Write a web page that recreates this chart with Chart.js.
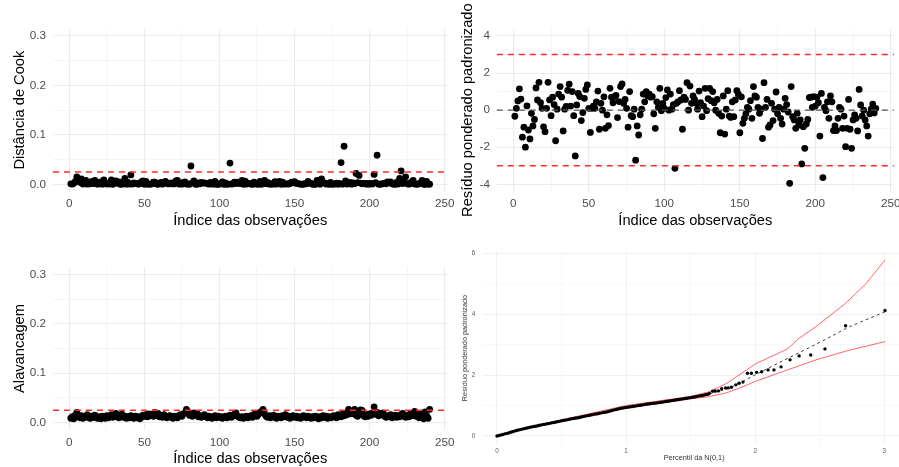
<!DOCTYPE html>
<html lang="pt">
<head>
<meta charset="utf-8">
<title>Diagnóstico do modelo</title>
<script src="https://cdn.jsdelivr.net/npm/chart.js@4.4.1/dist/chart.umd.min.js"></script>
<style>
  html, body { margin: 0; padding: 0; background: #fff; }
  #board { position: relative; width: 899px; height: 467px; overflow: hidden; background: #fff; }
  #board canvas { position: absolute; }
</style>
</head>
<body>
<div id="board"></div>
<script>
// Diagnostic panels: Cook's distance, standardized weighted residuals,
// leverage and half-normal plot with simulated envelope.

// ---- data -----------------------------------------------------------------

// Standardized weighted residual, observations 1..240
const residuals = [
  -0.33, 0.1, 0.5, 1.15, 0.6, -1.46, -0.92, -2.0, 0.23, -1.07,
  -1.55, -0.17, -0.85, -0.5, 1.2, 0.55, 1.5, 0.4, 0.1, -0.9,
  -1.16, 0.1, 1.5, 0.55, -0.3, 0.7, 0.3, -1.65, 0.05, 0.87,
  1.27, 0.7, -1.12, 0.05, 0.2, 1.07, 1.4, 0.22, 1.0, -0.3,
  -2.47, 0.28, 0.9, 0.73, -0.56, -0.13, 0.64, 1.12, 1.36, 0.1,
  -1.2, 0.1, 0.22, 0.1, 0.44, 1.03, -1.03, 0.37, 0, 0.72,
  -0.98, -0.25, -0.83, 1.18, 0.7, 0.4, 0.73, 0.8, -0.4, 0.46,
  1.27, 1.41, 0.37, 0.58, 0.1, -0.92, 1.0, -0.3, -0.35, 0.05,
  -2.7, -0.85, -1.34, -0.25, 0.05, 0.87, 0.45, 1.0, 0.77, 0.87,
  0.7, 0.73, -0.2, -0.98, 0.45, 0.15, 1.18, -0.03, 0.37, 0.1,
  0.68, 1.09, 0, 0.87, 0.05, 0.3, -3.14, 0.37, 0.45, 1.05,
  0.55, -1.03, 0.7, 0.58, 1.48, 0, 1.3, 0.37, 0.77, 0.58,
  0.37, 0.05, 1.03, 0.4, -0.35, 0.22, 1.18, -0.03, 0.62, 1.18,
  0.51, 1.0, 0.4, 0, 0.58, -0.17, -1.22, -0.32, 0.77, -1.29,
  0.05, 1.05, -0.32, -0.39, 0.45, -0.35, 0.55, 1.05, 0.87, -1.22,
  0.72, -0.71, -0.44, -0.2, 0.15, 0.05, 0.51, -0.44, 1.27, 0.77,
  0.7, 0.15, -0.17, 0.05, -1.53, 1.48, 0.15, 0.58, -0.92, -0.8,
  0.37, -0.56, 0.05, 0.98, -0.2, 0.15, -0.44, -0.75, 0.05, 0.64,
  0.3, -0.1, -3.95, 1.27, -0.35, -0.53, -0.98, -0.17, -0.8, -0.53,
  -2.9, -0.89, -2.06, -0.75, -0.5, 0.68, 0.7, 0.15, 0.73, 0.22,
  0.7, 0.4, -1.4, 0.9, -3.64, 0.15, -0.03, 0.45, -0.44, 0.77,
  0.45, -1.1, -0.85, -1.1, -0.44, 0.15, 0.05, -0.98, -0.32, -1.97,
  -0.98, 0.58, -1.03, -2.06, -0.53, -0.25, -0.44, -1.12, 1.12, 0.28,
  -0.32, 0, -0.53, -0.85, -1.4, -0.2, 0.05, 0.33, -0.15, 0.1
];

// Cook's distance, observations 1..240
const cookDist = [
  0.001, 0.0005, 0.002, 0.006, 0.015, 0.009, 0.004, 0.011, 0.0005, 0.005,
  0.008, 0.0003, 0.003, 0.001, 0.006, 0.0015, 0.008, 0.001, 0.0002, 0.003,
  0.005, 0.0002, 0.009, 0.0015, 0.0005, 0.002, 0.0005, 0.009, 0.0001, 0.003,
  0.007, 0.002, 0.005, 0.0001, 0.0003, 0.005, 0.012, 0.0003, 0.004, 0.0005,
  0.019, 0.0004, 0.003, 0.002, 0.0015, 0.0002, 0.0017, 0.005, 0.007, 0.0002,
  0.006, 0.0002, 0.0004, 0.0002, 0.001, 0.0045, 0.0045, 0.0007, 0.0001, 0.002,
  0.004, 0.0003, 0.003, 0.006, 0.002, 0.0008, 0.002, 0.003, 0.0008, 0.001,
  0.007, 0.008, 0.0006, 0.0015, 0.0002, 0.004, 0.005, 0.0005, 0.0007, 0.0001,
  0.037, 0.003, 0.007, 0.0003, 0.0001, 0.003, 0.001, 0.004, 0.0025, 0.003,
  0.002, 0.002, 0.0002, 0.004, 0.001, 0.0002, 0.006, 0.0001, 0.0006, 0.0002,
  0.002, 0.005, 0.0001, 0.003, 0.0001, 0.0004, 0.043, 0.0006, 0.001, 0.0045,
  0.0015, 0.0045, 0.002, 0.0015, 0.008, 0.0001, 0.0065, 0.0006, 0.0025, 0.0015,
  0.0006, 0.0001, 0.0045, 0.0008, 0.0006, 0.0003, 0.006, 0.0001, 0.002, 0.008,
  0.0012, 0.004, 0.0008, 0.0001, 0.0015, 0.0002, 0.0055, 0.0005, 0.0025, 0.006,
  0.0001, 0.0045, 0.0005, 0.0007, 0.001, 0.0006, 0.0015, 0.0045, 0.003, 0.0055,
  0.002, 0.002, 0.0009, 0.0002, 0.0002, 0.0001, 0.0012, 0.0009, 0.006, 0.0025,
  0.002, 0.0002, 0.0002, 0.0001, 0.008, 0.007, 0.0003, 0.011, 0.0035, 0.003,
  0.0006, 0.0013, 0.0001, 0.004, 0.0002, 0.0002, 0.0009, 0.0025, 0.0001, 0.0017,
  0.044, 0.0002, 0.077, 0.007, 0.0006, 0.0012, 0.004, 0.0002, 0.003, 0.0012,
  0.022, 0.0035, 0.018, 0.0025, 0.001, 0.002, 0.002, 0.0002, 0.002, 0.0003,
  0.002, 0.0008, 0.02, 0.0035, 0.059, 0.0002, 0.0001, 0.001, 0.0009, 0.0025,
  0.001, 0.005, 0.003, 0.005, 0.0009, 0.0002, 0.0001, 0.004, 0.0005, 0.012,
  0.027, 0.0015, 0.0045, 0.015, 0.0012, 0.0003, 0.0009, 0.005, 0.008, 0.0004,
  0.0005, 0.0001, 0.0012, 0.003, 0.008, 0.0002, 0.0001, 0.006, 0.0003, 0.0002
];

// Leverage (hat values), observations 1..240
const leverage = [
  0.009, 0.012, 0.008, 0.015, 0.021, 0.013, 0.010, 0.014, 0.009, 0.011,
  0.012, 0.016, 0.010, 0.009, 0.013, 0.011, 0.015, 0.010, 0.009, 0.012,
  0.008, 0.013, 0.011, 0.009, 0.014, 0.010, 0.012, 0.016, 0.011, 0.013,
  0.019, 0.012, 0.010, 0.015, 0.017, 0.011, 0.013, 0.009, 0.012, 0.010,
  0.014, 0.011, 0.009, 0.013, 0.010, 0.012, 0.008, 0.011, 0.015, 0.013,
  0.016, 0.012, 0.018, 0.014, 0.017, 0.013, 0.021, 0.015, 0.019, 0.012,
  0.014, 0.011, 0.016, 0.013, 0.010, 0.012, 0.014, 0.011, 0.009, 0.013,
  0.012, 0.010, 0.014, 0.016, 0.013, 0.018, 0.020, 0.027, 0.022, 0.015,
  0.018, 0.013, 0.020, 0.016, 0.019, 0.012, 0.014, 0.011, 0.013, 0.016,
  0.012, 0.010, 0.013, 0.011, 0.009, 0.012, 0.014, 0.010, 0.013, 0.011,
  0.012, 0.009, 0.011, 0.013, 0.010, 0.012, 0.015, 0.011, 0.014, 0.017,
  0.020, 0.013, 0.011, 0.010, 0.012, 0.009, 0.011, 0.013, 0.010, 0.012,
  0.014, 0.011, 0.016, 0.019, 0.013, 0.017, 0.021, 0.023, 0.027, 0.018,
  0.013, 0.011, 0.014, 0.010, 0.012, 0.015, 0.011, 0.009, 0.013, 0.012,
  0.010, 0.014, 0.012, 0.016, 0.011, 0.013, 0.009, 0.012, 0.014, 0.011,
  0.013, 0.010, 0.012, 0.009, 0.011, 0.014, 0.012, 0.010, 0.013, 0.011,
  0.009, 0.012, 0.010, 0.013, 0.011, 0.008, 0.012, 0.010, 0.014, 0.011,
  0.013, 0.009, 0.012, 0.010, 0.011, 0.014, 0.012, 0.010, 0.016, 0.013,
  0.012, 0.017, 0.014, 0.019, 0.016, 0.027, 0.021, 0.018, 0.024, 0.027,
  0.015, 0.013, 0.019, 0.026, 0.025, 0.014, 0.012, 0.016, 0.013, 0.018,
  0.015, 0.020, 0.032, 0.017, 0.021, 0.014, 0.019, 0.016, 0.020, 0.013,
  0.011, 0.014, 0.012, 0.016, 0.010, 0.013, 0.015, 0.011, 0.014, 0.012,
  0.016, 0.019, 0.013, 0.011, 0.015, 0.012, 0.017, 0.014, 0.019, 0.023,
  0.013, 0.017, 0.010, 0.015, 0.019, 0.008, 0.022, 0.014, 0.009, 0.027
];

// Half-normal plot: theoretical percentile vs sorted |residual|
const qqX = [
  0.000, 0.015, 0.030, 0.045, 0.060, 0.075, 0.090, 0.105, 0.120, 0.135,
  0.150, 0.165, 0.180, 0.195, 0.210, 0.225, 0.240, 0.255, 0.270, 0.285,
  0.300, 0.315, 0.330, 0.345, 0.360, 0.375, 0.390, 0.405, 0.420, 0.435,
  0.450, 0.465, 0.480, 0.495, 0.510, 0.525, 0.540, 0.555, 0.570, 0.585,
  0.600, 0.615, 0.630, 0.645, 0.660, 0.675, 0.690, 0.705, 0.720, 0.735,
  0.750, 0.765, 0.780, 0.795, 0.810, 0.825, 0.840, 0.855, 0.870, 0.885,
  0.900, 0.915, 0.930, 0.945, 0.960, 0.975, 0.990, 1.005, 1.020, 1.035,
  1.050, 1.065, 1.080, 1.095, 1.110, 1.125, 1.140, 1.155, 1.170, 1.185,
  1.200, 1.215, 1.230, 1.245, 1.260, 1.275, 1.290, 1.305, 1.320, 1.335,
  1.350, 1.365, 1.380, 1.395, 1.410, 1.425, 1.440, 1.455, 1.470, 1.485,
  1.500, 1.515, 1.530, 1.545, 1.560, 1.575, 1.590, 1.605, 1.620, 1.635,
  1.645, 1.67, 1.69, 1.715, 1.74, 1.77, 1.79, 1.815, 1.85, 1.875,
  1.905, 1.94, 1.97, 2.01, 2.05, 2.10, 2.145, 2.20, 2.27, 2.34,
  2.43, 2.54, 2.70, 3.005
];
const qqY = [
  0.000, 0.015, 0.030, 0.050, 0.070, 0.085, 0.100, 0.120, 0.140, 0.160,
  0.180, 0.195, 0.210, 0.225, 0.240, 0.255, 0.270, 0.285, 0.300, 0.310,
  0.320, 0.335, 0.350, 0.365, 0.380, 0.390, 0.400, 0.415, 0.430, 0.440,
  0.450, 0.465, 0.480, 0.495, 0.510, 0.520, 0.530, 0.545, 0.560, 0.570,
  0.580, 0.590, 0.600, 0.615, 0.630, 0.645, 0.660, 0.670, 0.680, 0.695,
  0.710, 0.720, 0.730, 0.745, 0.760, 0.770, 0.780, 0.795, 0.810, 0.830,
  0.850, 0.865, 0.880, 0.895, 0.910, 0.920, 0.930, 0.940, 0.950, 0.960,
  0.970, 0.980, 0.990, 1.000, 1.010, 1.020, 1.030, 1.040, 1.050, 1.060,
  1.070, 1.075, 1.080, 1.090, 1.100, 1.110, 1.120, 1.130, 1.140, 1.150,
  1.160, 1.170, 1.180, 1.190, 1.200, 1.210, 1.220, 1.230, 1.240, 1.250,
  1.260, 1.270, 1.280, 1.295, 1.310, 1.320, 1.330, 1.345, 1.360, 1.370,
  1.40, 1.47, 1.48, 1.48, 1.55, 1.58, 1.58, 1.60, 1.68, 1.73,
  1.77, 2.06, 2.06, 2.09, 2.11, 2.17, 2.17, 2.27, 2.50, 2.63,
  2.66, 2.86, 3.62, 4.12
];

// Simulated envelope (upper / lower) and its median line
const envUpperX = [0, 0.25, 0.5, 1.0, 1.5, 1.64, 1.78, 1.855, 2.01, 2.11, 2.25, 2.34, 2.47, 2.70, 2.86, 3.005];
const envUpperY = [0, 0.29, 0.53, 1.0, 1.30, 1.45, 1.73, 1.95, 2.39, 2.58, 2.86, 3.21, 3.59, 4.36, 5.01, 5.78];
const envLowerX = [0, 0.25, 0.5, 1.0, 1.5, 1.64, 1.78, 1.905, 2.01, 2.21, 2.47, 2.73, 3.005];
const envLowerY = [0, 0.25, 0.47, 0.91, 1.22, 1.29, 1.42, 1.62, 1.81, 2.11, 2.50, 2.82, 3.10];
const envMidX = [0, 0.25, 0.5, 0.75, 1.0, 1.25, 1.5, 1.64, 1.80, 1.96, 2.21, 2.47, 2.73, 3.005];
const envMidY = [0, 0.27, 0.50, 0.71, 0.94, 1.10, 1.26, 1.37, 1.57, 1.92, 2.46, 3.01, 3.59, 4.08];

// Axis ticks (major ones get a label, the rest are minor grid lines)
const indexTicks = [0, 25, 50, 75, 100, 125, 150, 175, 200, 225, 250];
const smallTicks = [0, 0.05, 0.1, 0.15, 0.2, 0.25, 0.3];
const residTicks = [-4, -3, -2, -1, 0, 1, 2, 3, 4];
const pctTicks = [0, 0.5, 1, 1.5, 2, 2.5, 3];
const absResidTicks = [0, 1, 2, 3, 4, 5, 6];

// Reference levels
const cookCut = 0.025;
const leverageCut = 0.025;
const residLimit = 3;

// ---- helpers ----------------------------------------------------------------

const FONT = '"Liberation Sans", Arial, Helvetica, sans-serif';

const refLinePlugin = {
  id: 'refLines',
  afterDatasetsDraw(chart, args, opts) {
    const { ctx, chartArea: a, scales } = chart;
    (opts.lines || []).forEach(l => {
      const py = scales.y.getPixelForValue(l.value);
      ctx.save();
      ctx.beginPath();
      ctx.setLineDash(l.dash);
      ctx.strokeStyle = l.color;
      ctx.lineWidth = l.width;
      ctx.moveTo(a.left, py);
      ctx.lineTo(a.right, py);
      ctx.stroke();
      ctx.restore();
    });
  }
};
Chart.register(refLinePlugin);

const isMultiple = (v, step) => Math.abs(v / step - Math.round(v / step)) < 1e-6;

function axis(ax, p, horizontal) {
  const lh = p.titleSize * 1.2;
  const major = v => isMultiple(v, ax.major);
  const box = p.box, area = p.area;
  const titlePad = horizontal
    ? { top: 0, bottom: (box.y + box.h) - p.xTitleY - lh / 2 }
    : { top: (p.yTitleX - box.x) - lh / 2, bottom: 0 };
  return {
    type: 'linear',
    position: horizontal ? 'bottom' : 'left',
    min: ax.min,
    max: ax.max,
    afterBuildTicks: s => { s.ticks = ax.ticks.map(v => ({ value: v })); },
    afterFit: s => {
      if (horizontal) s.height = (box.y + box.h) - area.b;
      else s.width = area.l - box.x;
    },
    border: { display: false },
    grid: {
      drawTicks: false,
      tickLength: 0,
      color: c => (c.tick && major(c.tick.value)) ? p.gridMajor : p.gridMinor,
      lineWidth: c => (c.tick && major(c.tick.value)) ? p.gridMajorW : p.gridMinorW
    },
    ticks: {
      font: { family: FONT, size: p.tickSize },
      color: p.tickColor,
      padding: horizontal ? p.xTickPad : p.yTickPad,
      maxRotation: 0,
      autoSkip: false,
      callback: v => major(v) ? ax.fmt(v) : ''
    },
    title: {
      display: true,
      text: ax.title,
      color: p.titleColor,
      font: { family: FONT, size: p.titleSize },
      padding: titlePad
    }
  };
}

function makePanel(p) {
  const canvas = document.createElement('canvas');
  canvas.width = p.box.w;
  canvas.height = p.box.h;
  canvas.style.left = p.box.x + 'px';
  canvas.style.top = p.box.y + 'px';
  document.getElementById('board').appendChild(canvas);

  return new Chart(canvas, {
    type: 'scatter',
    data: { datasets: p.datasets },
    options: {
      responsive: false,
      devicePixelRatio: 1,
      animation: false,
      events: [],
      layout: {
        padding: {
          left: 0,
          top: p.area.t - p.box.y,
          right: (p.box.x + p.box.w) - p.area.r,
          bottom: 0
        }
      },
      plugins: {
        legend: { display: false },
        tooltip: { enabled: false },
        refLines: { lines: p.lines || [] }
      },
      scales: {
        x: axis(p.x, p, true),
        y: axis(p.y, p, false)
      }
    }
  });
}

const indexAxis = {
  min: -10.95, max: 251.95, ticks: indexTicks, major: 50,
  fmt: v => String(v), title: 'Índice das observações'
};

const bigText = {
  tickSize: 11.7, titleSize: 14.67, tickColor: '#4D4D4D', titleColor: '#000',
  gridMajor: '#EBEBEB', gridMinor: '#F2F2F2', gridMajorW: 1.1, gridMinorW: 0.8,
  xTickPad: 5.5, yTickPad: 6.8
};

const dots = (values) => ({
  data: values.map((v, i) => ({ x: i + 1, y: v })),
  backgroundColor: '#000',
  borderWidth: 0,
  pointRadius: 3.4
});

const redDash = value => ({ value, color: '#FF2A2A', dash: [6, 5], width: 1.4 });

// ---- panels -------------------------------------------------------------------

makePanel(Object.assign({}, bigText, {
  box: { x: 0, y: 0, w: 460, h: 233 },
  area: { l: 52.9, t: 28.6, r: 447.6, b: 191.7 },
  yTitleX: 19.5, xTitleY: 220.5,
  x: indexAxis,
  y: { min: -0.015, max: 0.315, ticks: smallTicks, major: 0.1, fmt: v => v.toFixed(1), title: 'Distância de Cook' },
  datasets: [dots(cookDist)],
  lines: [redDash(cookCut)]
}));

makePanel(Object.assign({}, bigText, {
  box: { x: 450, y: 0, w: 460, h: 233 },
  area: { l: 496.8, t: 28.6, r: 893.8, b: 191.7 },
  yTitleX: 468, xTitleY: 220.5,
  x: indexAxis,
  y: { min: -4.4, max: 4.4, ticks: residTicks, major: 2, fmt: v => String(v), title: 'Resíduo ponderado padronizado' },
  datasets: [dots(residuals)],
  lines: [
    redDash(residLimit),
    redDash(-residLimit),
    { value: 0, color: '#555555', dash: [6, 5], width: 1.4 }
  ]
}));

makePanel(Object.assign({}, bigText, {
  box: { x: 0, y: 233, w: 460, h: 234 },
  area: { l: 52.9, t: 266.9, r: 447.6, b: 430.1 },
  yTitleX: 19.5, xTitleY: 458.5,
  x: indexAxis,
  y: { min: -0.015, max: 0.315, ticks: smallTicks, major: 0.1, fmt: v => v.toFixed(1), title: 'Alavancagem' },
  datasets: [dots(leverage)],
  lines: [redDash(leverageCut)]
}));

const pairs = (xs, ys) => xs.map((x, i) => ({ x, y: ys[i] }));
const envLine = (xs, ys, color, dash) => ({
  data: pairs(xs, ys),
  showLine: true,
  borderColor: color,
  borderWidth: 1,
  borderDash: dash,
  pointRadius: 0,
  order: 1
});

makePanel({
  tickSize: 6.3, titleSize: 7.3, tickColor: '#5A5A5A', titleColor: '#333',
  gridMajor: '#EDEDED', gridMinor: '#F4F4F4', gridMajorW: 0.8, gridMinorW: 0.6,
  xTickPad: 2.2, yTickPad: 8,
  box: { x: 450, y: 233, w: 460, h: 234 },
  area: { l: 483.3, t: 251.2, r: 905, b: 444.8 },
  yTitleX: 465, xTitleY: 458.3,
  x: { min: -0.106, max: 3.16, ticks: pctTicks, major: 1, fmt: v => String(v), title: 'Percentil da N(0,1)' },
  y: { min: -0.29, max: 6.07, ticks: absResidTicks, major: 2, fmt: v => String(v), title: 'Resíduo ponderado padronizado' },
  datasets: [
    { data: pairs(qqX, qqY), backgroundColor: '#000', borderWidth: 0, pointRadius: 1.7, order: 0 },
    envLine(envUpperX, envUpperY, 'rgba(255,50,50,0.75)', []),
    envLine(envLowerX, envLowerY, 'rgba(255,50,50,0.75)', []),
    envLine(envMidX, envMidY, '#444', [3, 3])
  ]
});
</script>
</body>
</html>
